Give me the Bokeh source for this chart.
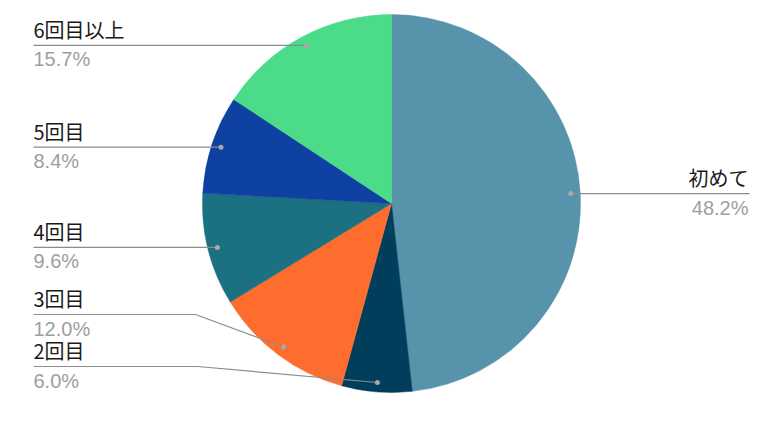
import math
from bokeh.plotting import figure
from bokeh.models import Range1d, ColumnDataSource
from bokeh.core.properties import value
from bokeh.embed import file_html
from bokeh.resources import INLINE

# ---- data ----
categories = ["初めて", "2回目", "3回目", "4回目", "5回目", "6回目以上"]
shares = [48.2, 6.0, 12.0, 9.6, 8.4, 15.7]
colors = ["#5793ab", "#003e5c", "#ff6d2e", "#1b7181", "#0f41a3", "#4bdb89"]

# ---- layout ----
W, H = 757, 407
CX, CY, R = 391, H - 203, 189
DOT_R = 0.95 * R
LEFT_X = 33
RIGHT_X = 749
# label line y overrides for crowded labels (screen y)
label_line_y = {"3回目": H - 314, "2回目": H - 366}
bend_x = {"3回目": 195, "2回目": 197}

p = figure(width=W, height=H, x_range=Range1d(0, W), y_range=Range1d(0, H),
           output_backend="svg", toolbar_location=None, min_border=0)
p.axis.visible = False
p.grid.visible = False
p.outline_line_color = None
p.background_fill_color = "white"

total = sum(shares)
cum = 0.0
starts, ends, mids = [], [], []
for s in shares:
    a0 = math.pi / 2 - 2 * math.pi * cum / total
    a1 = math.pi / 2 - 2 * math.pi * (cum + s) / total
    starts.append(a0)
    ends.append(a1)
    mids.append((a0 + a1) / 2)
    cum += s

src = ColumnDataSource(dict(start=starts, end=ends, color=colors))
p.wedge(x=CX, y=CY, radius=R, start_angle="start", end_angle="end",
        direction="clock", fill_color="color", line_color="color",
        line_width=0.5, source=src)

line_col = "#8c8c8c"
dot_col = "#a8a8a8"
name_font = value("Noto Sans CJK JP")
pct_font = value("Liberation Sans")
FS = "20px"

for cat, s, m in zip(categories, shares, mids):
    dx = CX + DOT_R * math.cos(m)
    dy = CY + DOT_R * math.sin(m)
    right = math.cos(m) > 0
    ly = label_line_y.get(cat, dy)
    if right:
        xs = [dx, RIGHT_X]
        ys = [ly, ly]
        tx, align = RIGHT_X - 1, "right"
    else:
        if cat in bend_x:
            xs = [LEFT_X, bend_x[cat], dx]
            ys = [ly, ly, dy]
        else:
            xs = [LEFT_X, dx]
            ys = [ly, ly]
        tx, align = LEFT_X, "left"
    p.line(xs, ys, line_color=line_col, line_width=1.2)
    p.scatter([dx], [dy], size=5, marker="circle", fill_color=dot_col, line_color=None)
    p.text([tx], [ly + 16], text=[cat], text_font=name_font, text_font_size=FS,
           text_color="#1a1a1a", text_align=align, text_baseline="middle")
    p.text([tx], [ly - 14], text=[f"{s:.1f}%"], text_font=pct_font, text_font_size=FS,
           text_color="#9e9e9e", text_align=align, text_baseline="middle")

open("out.html", "w").write(file_html(p, INLINE))
